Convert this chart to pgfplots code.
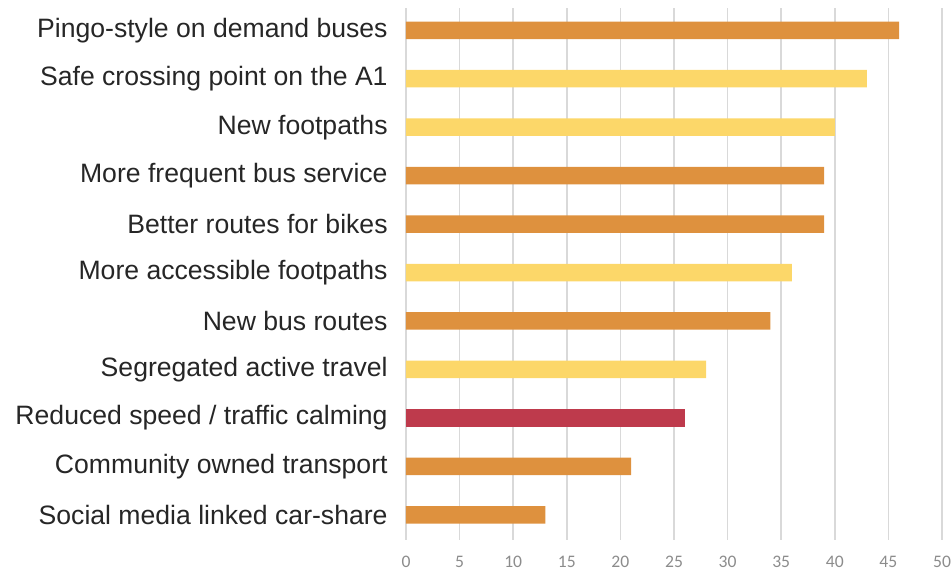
\documentclass[border=0pt]{standalone}
\usepackage{pgfplots}
\pgfplotsset{compat=1.18}
\usepackage{fontspec}
\setmainfont{Liberation Sans}
\newfontfamily\tickfont{Carlito}
\definecolor{barorange}{HTML}{DE913E}
\definecolor{baryellow}{HTML}{FCD769}
\definecolor{barred}{HTML}{BE3A4C}
\definecolor{gridgray}{HTML}{D9D9D9}
\definecolor{labelblack}{HTML}{262626}
\definecolor{tickgray}{HTML}{8C8C8C}
\begin{document}
\begin{tikzpicture}
\begin{axis}[
  name=ax,
  scale only axis,
  width=268pt, height=266pt,
  xbar, bar width=8.75pt,
  xmin=0, xmax=50, ymin=-0.52, ymax=10.46,
  axis line style={draw=none},
  xtick pos=bottom, ytick pos=left,
  xtick={0,5,...,50},
  ytick={0,...,10},
  yticklabels={Social media linked car-share, Community owned transport, Reduced speed / traffic calming, Segregated active travel, New bus routes, More accessible footpaths, Better routes for bikes, More frequent bus service, New footpaths, Safe crossing point on the A1, Pingo-style on demand buses},
  major tick length=0pt,
  xmajorgrids, grid style={gridgray, line width=0.8pt},
  yticklabel style={font=\fontsize{13.3}{15}\selectfont, text=labelblack, inner sep=0pt, xshift=-9pt},
  xticklabel style={font=\tickfont\fontsize{8.8}{10}\selectfont, text=tickgray, inner sep=0pt, yshift=-8pt},
  /pgf/number format/assume math mode=true,
  clip=false,
]
\addplot[draw=none, fill=barorange, bar shift=0pt] coordinates {(13,0) (21,1) (34,4) (39,6) (39,7) (46,10)};
\addplot[draw=none, fill=baryellow, bar shift=0pt] coordinates {(28,3) (36,5) (40,8) (43,9)};
\addplot[draw=none, fill=barred, bar shift=0pt] coordinates {(26,2)};
\end{axis}
\pgfresetboundingbox
\path (ax.north west) ++(-203pt,4pt) coordinate (bbtl);
\path (ax.south west) ++(272.5pt,-15.5pt) coordinate (bbbr);
\path (bbtl) rectangle (bbbr);
\end{tikzpicture}
\end{document}
